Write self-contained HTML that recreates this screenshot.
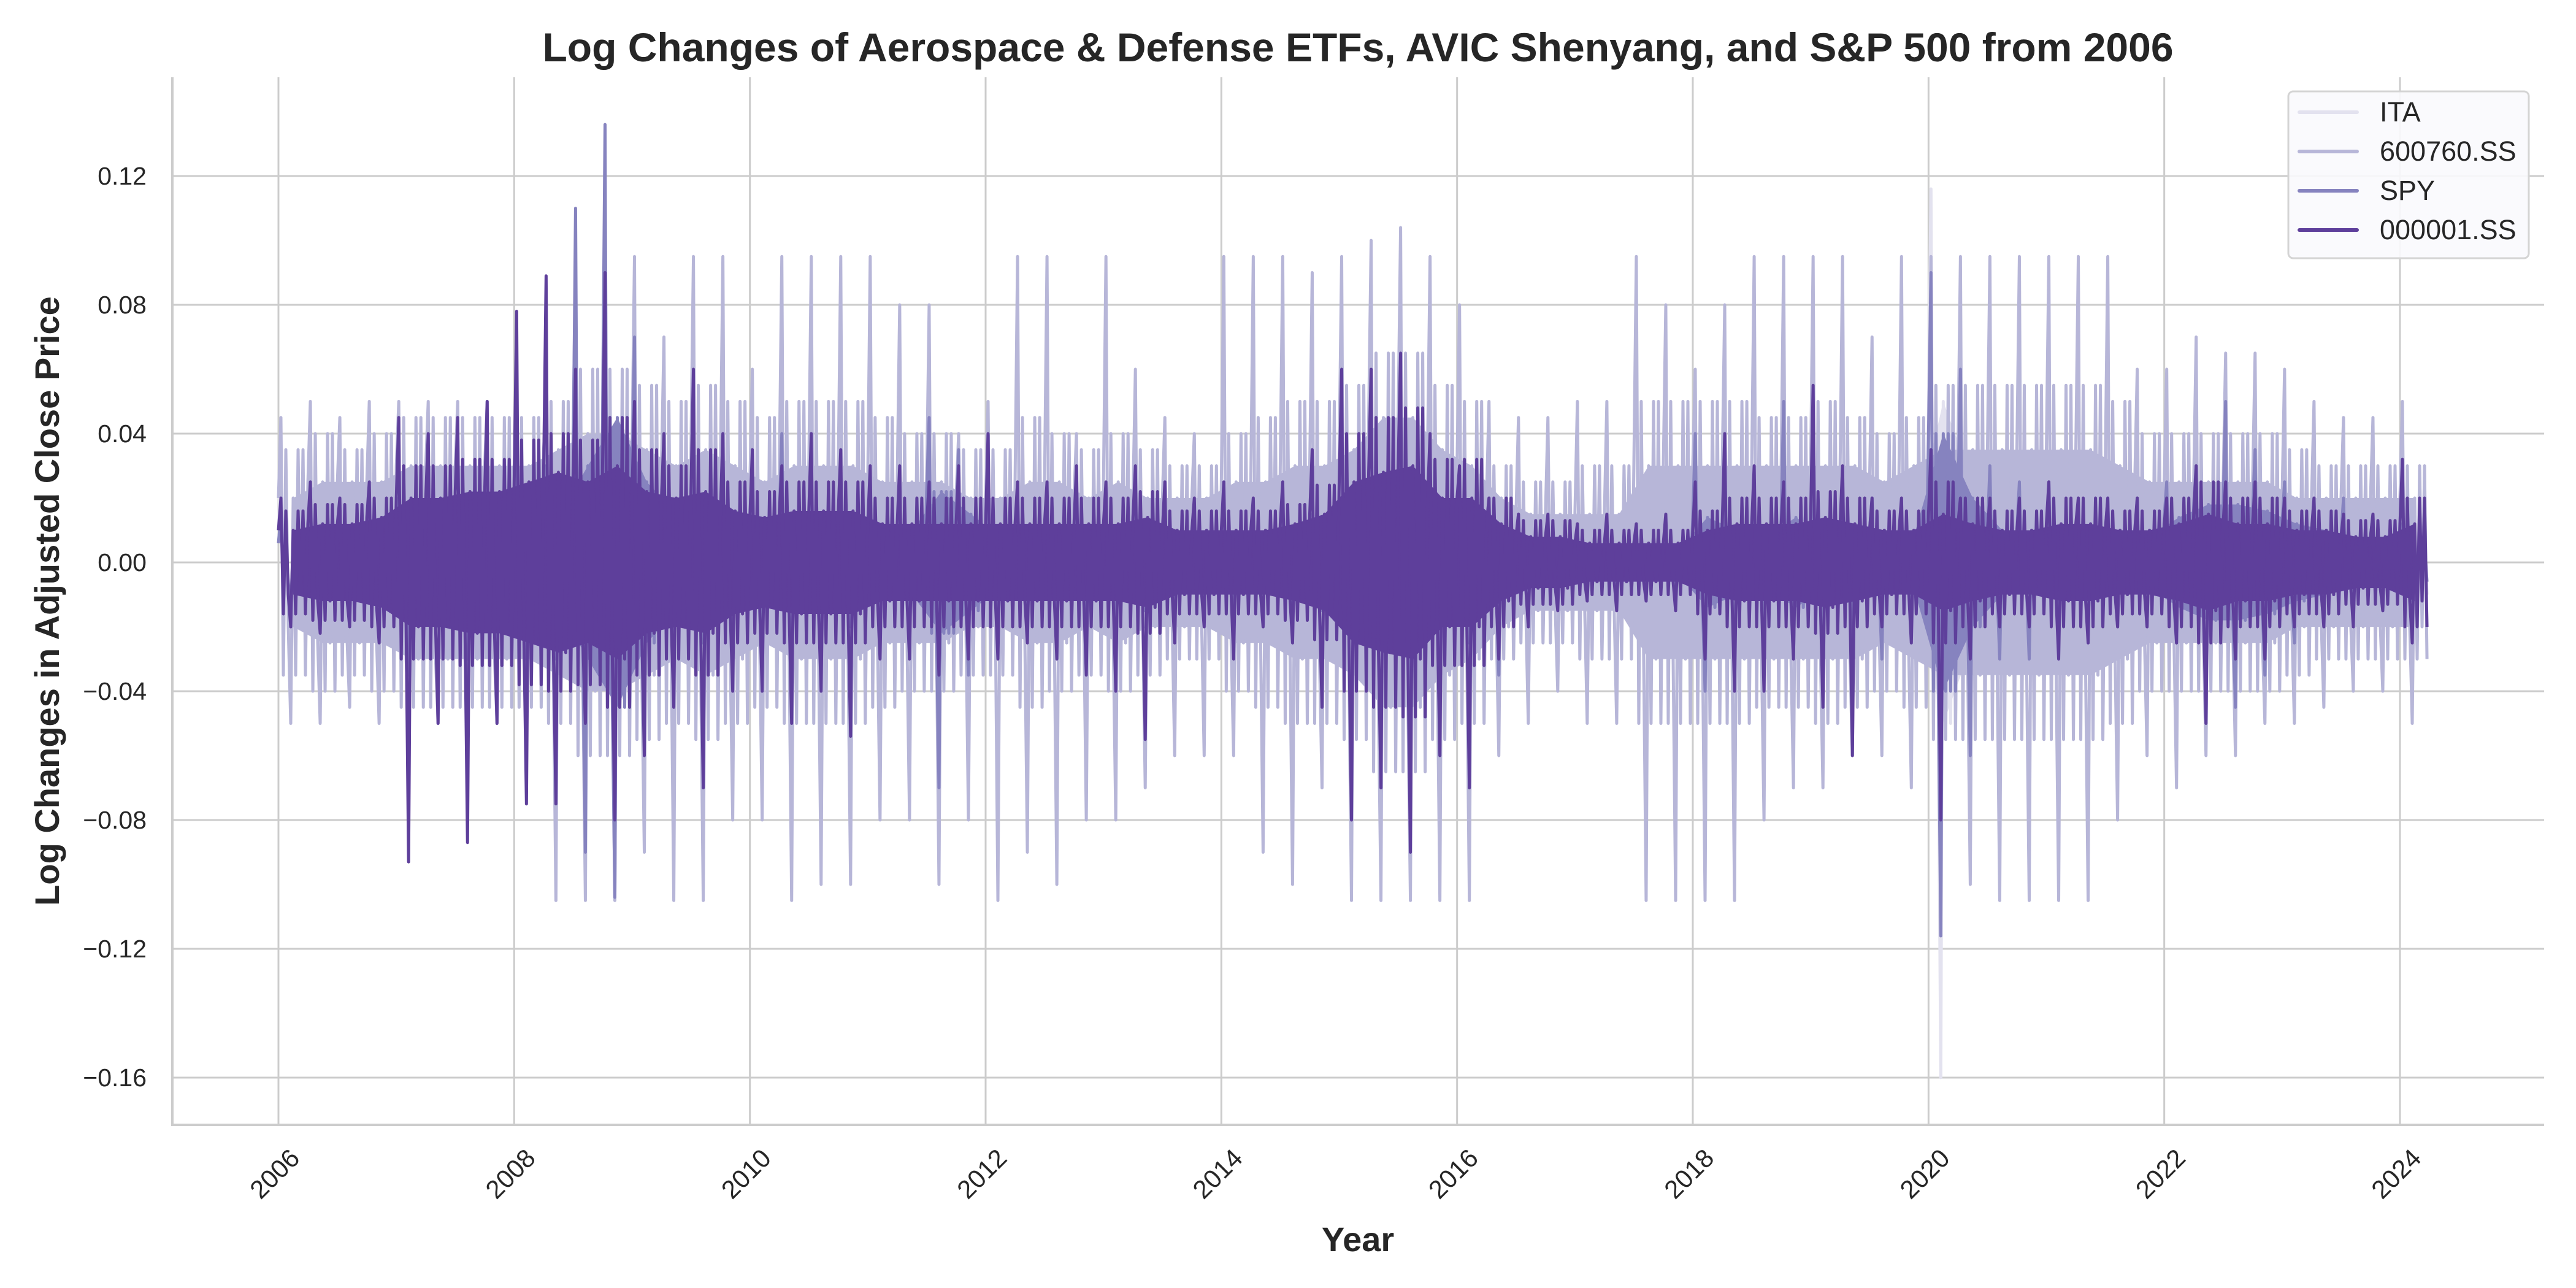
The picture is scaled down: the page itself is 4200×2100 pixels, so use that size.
<!DOCTYPE html>
<html><head><meta charset="utf-8"><style>
html,body{margin:0;padding:0;background:#fff}
svg{display:block;font-family:"Liberation Sans",Arial,sans-serif}
</style></head><body>
<svg id="chart" width="4200" height="2100" viewBox="0 0 4200 2100" xmlns="http://www.w3.org/2000/svg">
<g id="grid"></g>
<g id="series"></g>
<g id="axes"></g>
<text x="2214" y="100" text-anchor="middle" font-size="66" font-weight="bold" fill="#262626">Log Changes of Aerospace &amp; Defense ETFs, AVIC Shenyang, and S&amp;P 500 from 2006</text>
<text x="2214" y="2040" text-anchor="middle" font-size="56" font-weight="bold" fill="#262626">Year</text>
<text transform="translate(96,980) rotate(-90)" text-anchor="middle" font-size="56" font-weight="bold" fill="#262626">Log Changes in Adjusted Close Price</text>
<g>
<rect x="3731" y="149" width="392" height="272" rx="8" fill="#f9f9fd" fill-opacity="0.9" stroke="#d4d4d4" stroke-width="3"/>
<g><line x1="3749" y1="183" x2="3843" y2="183" stroke="#e3e2ef" stroke-width="6" stroke-linecap="round"/><text x="3880" y="198" font-size="45" fill="#262626">ITA</text></g>
<g><line x1="3749" y1="247" x2="3843" y2="247" stroke="#b7b6d8" stroke-width="6" stroke-linecap="round"/><text x="3880" y="262" font-size="45" fill="#262626">600760.SS</text></g>
<g><line x1="3749" y1="311" x2="3843" y2="311" stroke="#8683bf" stroke-width="6" stroke-linecap="round"/><text x="3880" y="326" font-size="45" fill="#262626">SPY</text></g>
<g><line x1="3749" y1="375" x2="3843" y2="375" stroke="#5e3f9b" stroke-width="6" stroke-linecap="round"/><text x="3880" y="390" font-size="45" fill="#262626">000001.SS</text></g>
</g>
</svg>
<script>
// quarterly bins starting 2006Q1
const startYear = 2006;
const binYears = 0.25;
const xTickYears = [2006,2008,2010,2012,2014,2016,2018,2020,2022,2024];
const yTicks = [-0.16,-0.12,-0.08,-0.04,0,0.04,0.08,0.12];
const yTickLabels = ["\u22120.16","\u22120.12","\u22120.08","\u22120.04","0.00","0.04","0.08","0.12"];

const avicHi = [.045,.05,.045,.05, .05,.05,.05,.05, .05,.05,.095,.095, .095,.07,.095,.095, .06,.095,.095,.095, .095,.08,.08,.04, .05,.095,.095,.04, .095,.06,.045,.04, .095,.095,.095,.09, .095,.1,.104,.095, .08,.05,.045,.045, .05,.05,.095,.08, .06,.08,.095,.095, .095,.095,.07,.095, .095,.095,.095,.095, .095,.095,.095,.06, .06,.07,.065,.065, .06,.05,.045,.045, .05];
const avicLo = [-.05,-.05,-.045,-.05, -.05,-.05,-.05,-.05, -.05,-.105,-.105,-.105, -.09,-.105,-.105,-.08, -.08,-.105,-.1,-.1, -.08,-.08,-.1,-.08, -.105,-.09,-.1,-.08, -.08,-.07,-.06,-.06, -.06,-.09,-.1,-.07, -.105,-.105,-.105,-.105, -.105,-.06,-.05,-.04, -.05,-.05,-.105,-.105, -.105,-.105,-.08,-.07, -.07,-.06,-.06,-.07, -.1,-.1,-.105,-.105, -.105,-.105,-.08,-.06, -.07,-.06,-.06,-.05, -.05,-.045,-.04,-.04, -.05];
const avicMid = [.035,.04,.035,.04, .045,.045,.045,.045, .045,.05,.06,.06, .055,.05,.055,.05, .045,.05,.05,.05, .045,.04,.04,.035, .035,.045,.04,.035, .04,.035,.03,.03, .04,.045,.05,.05, .055,.065,.065,.055, .05,.03,.025,.025, .03,.03,.05,.05, .05,.05,.045,.045, .05,.045,.04,.045, .055,.055,.055,.055, .055,.055,.05,.04, .04,.04,.04,.04, .035,.03,.03,.03, .03];
const avicCore = [.02,.025,.025,.025, .03,.03,.03,.03, .03,.035,.04,.04, .035,.03,.035,.03, .025,.03,.03,.03, .025,.025,.025,.02, .02,.025,.025,.02, .025,.02,.02,.02, .025,.025,.03,.03, .035,.045,.045,.035, .03,.02,.015,.015, .015,.015,.03,.03, .03,.03,.03,.03, .03,.03,.025,.03, .035,.035,.035,.035, .035,.035,.03,.025, .025,.025,.025,.025, .02,.02,.02,.02, .02];

const sseHi = [.02,.025,.02,.025, .045,.04,.045,.05, .078,.089,.06,.09, .05,.04,.06,.04, .035,.03,.04,.035, .03,.03,.025,.03, .04,.025,.025,.03, .025,.03,.025,.02, .025,.02,.025,.035, .06,.06,.065,.04, .03,.02,.015,.015, .012,.015,.012,.015, .025,.04,.03,.025, .055,.03,.02,.02, .035,.02,.02,.02, .025,.02,.02,.02, .02,.03,.025,.025, .02,.02,.015,.015, .032];
const sseLo = [-.02,-.022,-.02,-.025, -.093,-.05,-.087,-.05, -.075,-.075,-.05,-.08, -.06,-.045,-.07,-.04, -.04,-.05,-.04,-.054, -.03,-.03,-.035,-.03, -.03,-.025,-.03,-.035, -.04,-.055,-.025,-.02, -.03,-.02,-.025,-.045, -.08,-.07,-.09,-.06, -.07,-.03,-.02,-.015, -.012,-.015,-.012,-.015, -.03,-.04,-.04,-.03, -.045,-.06,-.02,-.025, -.08,-.03,-.02,-.02, -.03,-.025,-.02,-.02, -.025,-.05,-.03,-.03, -.02,-.02,-.02,-.015, -.025];
const sseMid = [.016,.018,.018,.02, .03,.03,.032,.032, .038,.04,.038,.045, .035,.03,.035,.025, .022,.025,.025,.025, .02,.02,.02,.02, .02,.02,.02,.02, .02,.022,.016,.016, .016,.016,.018,.024, .04,.045,.048,.032, .032,.02,.013,.013, .01,.01,.01,.01, .016,.02,.02,.02, .022,.02,.016,.016, .025,.02,.016,.016, .02,.02,.016,.016, .02,.025,.02,.02, .016,.016,.013,.013, .02];
const sseCore = [.01,.012,.012,.014, .02,.02,.022,.022, .025,.028,.025,.03, .022,.02,.022,.016, .014,.016,.016,.016, .012,.012,.012,.012, .012,.012,.012,.012, .012,.014,.01,.01, .01,.01,.012,.015, .025,.028,.03,.02, .02,.012,.008,.008, .006,.006,.006,.006, .01,.012,.012,.012, .014,.012,.01,.01, .015,.012,.01,.01, .012,.012,.01,.01, .012,.015,.012,.012, .01,.01,.008,.008, .012];

const spyHi = [.015,.02,.015,.015, .02,.02,.02,.03, .04,.03,.11,.136, .07,.03,.025,.02, .02,.04,.03,.02, .015,.02,.045,.035, .02,.02,.02,.02, .02,.015,.015,.015, .015,.015,.015,.015, .015,.015,.035,.03, .02,.02,.015,.01, .01,.01,.01,.01, .04,.025,.02,.05, .035,.02,.02,.015, .09,.06,.03,.025, .025,.02,.02,.02, .025,.03,.05,.035, .025,.02,.02,.015, .012];
const spyLo = [-.015,-.02,-.015,-.015, -.035,-.02,-.03,-.03, -.03,-.03,-.09,-.104, -.055,-.03,-.025,-.02, -.02,-.035,-.03,-.02, -.015,-.02,-.07,-.035, -.02,-.02,-.02,-.02, -.02,-.015,-.015,-.015, -.02,-.015,-.02,-.015, -.015,-.015,-.04,-.03, -.025,-.035,-.015,-.01, -.01,-.01,-.01,-.01, -.04,-.03,-.02,-.03, -.03,-.025,-.03,-.02, -.116,-.06,-.03,-.03, -.025,-.02,-.02,-.02, -.025,-.045,-.045,-.035, -.025,-.02,-.015,-.015, -.012];
const spyCore = [.006,.008,.006,.006, .008,.01,.012,.015, .018,.014,.03,.045, .025,.015,.012,.01, .01,.015,.012,.01, .008,.01,.022,.015, .008,.01,.008,.008, .008,.008,.008,.008, .008,.006,.006,.007, .007,.008,.014,.012, .012,.01,.008,.005, .004,.004,.004,.004, .014,.01,.008,.014, .008,.008,.01,.008, .04,.02,.01,.01, .01,.008,.01,.008, .014,.018,.018,.016, .012,.01,.008,.008, .006];

const itaHi = [.03,.03,.03,.03, .03,.03,.035,.04, .05,.03,.06,.1, .06,.04,.03,.03, .03,.04,.03,.03, .02,.02,.055,.035, .025,.02,.025,.02, .02,.02,.02,.02, .02,.02,.02,.02, .02,.02,.035,.03, .03,.025,.02,.042, .015,.015,.015,.015, .04,.03,.02,.04, .03,.02,.025,.02, .116,.073,.04,.03, .03,.025,.02,.02, .03,.03,.04,.04, .025,.02,.02,.02, .02];
const itaLo = [-.03,-.03,-.03,-.03, -.03,-.03,-.04,-.04, -.05,-.035,-.07,-.1, -.06,-.04,-.035,-.03, -.03,-.04,-.035,-.03, -.02,-.025,-.06,-.035, -.025,-.02,-.025,-.02, -.02,-.02,-.02,-.02, -.02,-.02,-.025,-.02, -.02,-.02,-.035,-.03, -.03,-.025,-.02,-.02, -.015,-.015,-.015,-.015, -.04,-.03,-.025,-.035, -.03,-.03,-.025,-.02, -.16,-.088,-.04,-.03, -.03,-.025,-.025,-.02, -.03,-.035,-.035,-.035, -.025,-.02,-.02,-.02, -.02];
const itaCore = [.01,.012,.01,.01, .012,.012,.015,.018, .02,.016,.03,.045, .03,.018,.015,.012, .012,.016,.014,.012, .01,.012,.025,.016, .01,.01,.01,.01, .01,.01,.01,.01, .01,.008,.008,.009, .009,.01,.016,.014, .014,.012,.01,.008, .006,.006,.006,.006, .016,.012,.01,.016, .01,.01,.012,.01, .05,.025,.015,.012, .012,.01,.012,.01, .016,.02,.02,.018, .014,.012,.01,.01, .01];

const NS='http://www.w3.org/2000/svg';
const L=281,R=4148,T=126,B=1834;
const X0=454, PX_PER_YEAR=(3913-454)/18;
const Y0=917, PX_PER_UNIT=210/0.04;
function xs(yr){return X0+(yr-2006)*PX_PER_YEAR;}
function ys(v){return Y0-v*PX_PER_UNIT;}
function mk(tag,attrs,parent){const e=document.createElementNS(NS,tag);for(const k in attrs)e.setAttribute(k,attrs[k]);parent.appendChild(e);return e;}

const grid=document.getElementById('grid'), axes=document.getElementById('axes'), ser=document.getElementById('series');
xTickYears.forEach(yr=>{
  const g=mk('line',{x1:xs(yr),x2:xs(yr),y1:T,y2:B,stroke:'#cccccc','stroke-width':3},grid);
  
  
  const t=mk('text',{transform:`translate(${xs(yr)+4},1924) rotate(-45)`,'text-anchor':'middle','font-size':42,fill:'#262626'},axes);
  t.textContent=String(yr);
  
  
});
yTicks.forEach((v,i)=>{
  const g=mk('line',{x1:L,x2:R,y1:ys(v),y2:ys(v),stroke:'#cccccc','stroke-width':3},grid);
  
  
  const t=mk('text',{x:239,y:ys(v)+14,'text-anchor':'end','font-size':41,fill:'#262626'},axes);
  t.textContent=yTickLabels[i];
  
  
});
const sl=mk('line',{x1:L,x2:L,y1:T,y2:B+2,stroke:'#cccccc','stroke-width':4},axes);


const sb=mk('line',{x1:L-2,x2:R,y1:B,y2:B,stroke:'#cccccc','stroke-width':4},axes);



function drawSeries(name,hi,lo,mid,core,color){
  const g=mk('g',{},ser);
  
  
  // smooth core band through bin centres
  let top=[],bot=[];
  core.forEach((c,i)=>{
    const cx=xs(startYear+(i+0.5)*binYears);
    top.push(`${cx},${ys(c)}`);
    bot.unshift(`${cx},${ys(-c)}`);
  });
  const band=mk('polygon',{points:top.concat(bot).join(' '),fill:color},g);
  
  
  // dense oscillation: extremes plus frequent mid-level swings
  let pts=[];
  hi.forEach((h,i)=>{
    const a=startYear+i*binYears;
    const m=mid[i], c=core[i];
    const seq=[c,h,-m,m,-c,lo[i],c,-m,m,-c,m,-m];
    seq.forEach((v,k)=>pts.push(`${xs(a+binYears*k/seq.length)},${ys(v)}`));
  });
  const ln=mk('polyline',{points:pts.join(' '),fill:'none',stroke:color,'stroke-width':5,'stroke-linejoin':'round'},g);
  
  
}
drawSeries('series-ita',itaHi,itaLo,itaCore,itaCore,'#e3e2ef');
drawSeries('series-600760',avicHi,avicLo,avicMid,avicCore,'#b7b6d8');
drawSeries('series-spy',spyHi,spyLo,spyCore,spyCore,'#8683bf');
drawSeries('series-000001',sseHi,sseLo,sseMid,sseCore,'#5e3f9b');
</script>
</body></html>
